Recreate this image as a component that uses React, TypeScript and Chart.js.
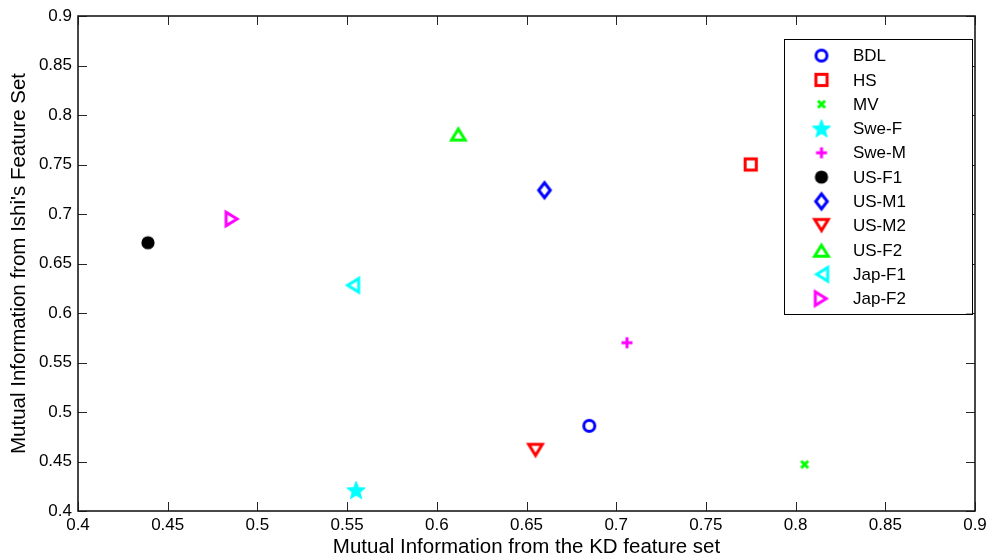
import React, { useEffect, useRef } from 'react';
import { Chart, registerables } from 'chart.js';

Chart.register(...registerables);

// ---------- data ----------
const seriesNames = ['BDL', 'HS', 'MV', 'Swe-F', 'Swe-M', 'US-F1', 'US-M1', 'US-M2', 'US-F2', 'Jap-F1', 'Jap-F2'];
const xValues = [0.685, 0.775, 0.805, 0.555, 0.706, 0.439, 0.66, 0.655, 0.612, 0.553, 0.486];
const yValues = [0.486, 0.75, 0.447, 0.421, 0.570, 0.671, 0.724, 0.461, 0.781, 0.628, 0.695];
const xTicks = [0.4, 0.45, 0.5, 0.55, 0.6, 0.65, 0.7, 0.75, 0.8, 0.85, 0.9];
const yTicks = [0.4, 0.45, 0.5, 0.55, 0.6, 0.65, 0.7, 0.75, 0.8, 0.85, 0.9];
const xTitle = 'Mutual Information from the KD feature set';
const yTitle = "Mutual Information from Ishi's Feature Set";

// ---------- styles ----------
const markerKinds = ['circle', 'square', 'x', 'star', 'plus', 'dot', 'diamond', 'triDown', 'triUp', 'triLeft', 'triRight'];
const markerColors = ['#0000ff', '#ff0000', '#00ff00', '#00ffff', '#ff00ff', '#000000', '#0000ff', '#ff0000', '#00ff00', '#00ffff', '#ff00ff'];
const FONT = '"Liberation Sans", Arial, Helvetica, sans-serif';

function makeMarker(kind: string, color: string): HTMLCanvasElement {
  const S = 28;
  const c = document.createElement('canvas');
  c.width = S;
  c.height = S;
  const g = c.getContext('2d')!;
  g.translate(S / 2, S / 2);
  g.strokeStyle = color;
  g.fillStyle = color;
  g.lineWidth = 3;
  g.lineJoin = 'miter';
  const tri = (angle: number) => {
    g.save();
    g.rotate(angle);
    g.beginPath();
    g.moveTo(0, -4.8);
    g.lineTo(6.8, 6.2);
    g.lineTo(-6.8, 6.2);
    g.closePath();
    g.stroke();
    g.restore();
  };
  switch (kind) {
    case 'circle':
      g.beginPath();
      g.arc(0, 0, 5.5, 0, Math.PI * 2);
      g.stroke();
      break;
    case 'square':
      g.strokeRect(-5.6, -5.6, 11.2, 11.2);
      break;
    case 'x':
      g.beginPath();
      g.moveTo(-3.5, -3.5);
      g.lineTo(3.5, 3.5);
      g.moveTo(3.5, -3.5);
      g.lineTo(-3.5, 3.5);
      g.stroke();
      break;
    case 'plus':
      g.beginPath();
      g.moveTo(-5.5, 0);
      g.lineTo(5.5, 0);
      g.moveTo(0, -5.5);
      g.lineTo(0, 5.5);
      g.stroke();
      break;
    case 'dot':
      g.beginPath();
      g.arc(0, 0, 6.6, 0, Math.PI * 2);
      g.fill();
      break;
    case 'diamond':
      g.beginPath();
      g.moveTo(0, -7.5);
      g.lineTo(5.8, 0);
      g.lineTo(0, 7.5);
      g.lineTo(-5.8, 0);
      g.closePath();
      g.stroke();
      break;
    case 'star': {
      g.beginPath();
      const R = 9.6, r = 4.1;
      for (let i = 0; i < 10; i++) {
        const a = -Math.PI / 2 + (i * Math.PI) / 5;
        const rr = i % 2 === 0 ? R : r;
        const px = Math.cos(a) * rr, py = Math.sin(a) * rr + 0.8;
        if (i === 0) g.moveTo(px, py); else g.lineTo(px, py);
      }
      g.closePath();
      g.fill();
      g.lineWidth = 1;
      g.stroke();
      break;
    }
    case 'triUp': tri(0); break;
    case 'triDown': tri(Math.PI); break;
    case 'triLeft': tri(-Math.PI / 2); break;
    case 'triRight': tri(Math.PI / 2); break;
  }
  return c;
}

const framePlugin = {
  id: 'matlabFrame',
  afterDraw(chart: any) {
    const { ctx, chartArea, scales } = chart;
    const { left, right, top, bottom } = chartArea;
    const xs = scales.x, ys = scales.y;
    ctx.save();
    // inward ticks
    ctx.strokeStyle = '#262626';
    ctx.lineWidth = 1;
    const TL = 9;
    ctx.beginPath();
    xs.ticks.forEach((t: any) => {
      const px = Math.round(xs.getPixelForValue(t.value)) + 0.5;
      ctx.moveTo(px, bottom);
      ctx.lineTo(px, bottom - TL);
      ctx.moveTo(px, top);
      ctx.lineTo(px, top + TL);
    });
    ys.ticks.forEach((t: any) => {
      const py = Math.round(ys.getPixelForValue(t.value)) + 0.5;
      ctx.moveTo(left, py);
      ctx.lineTo(left + TL, py);
      ctx.moveTo(right, py);
      ctx.lineTo(right - TL, py);
    });
    ctx.stroke();
    // box
    ctx.strokeStyle = '#1a1a1a';
    ctx.lineWidth = 1.6;
    ctx.strokeRect(left, top, right - left, bottom - top);

    // legend
    const lx = right - 191, ly = top + 22.6, lw = 188, lh = 275;
    ctx.fillStyle = '#ffffff';
    ctx.fillRect(lx, ly, lw, lh);
    ctx.strokeStyle = '#000000';
    ctx.lineWidth = 1;
    ctx.strokeRect(Math.round(lx) + 0.5, Math.round(ly) + 0.5, lw, lh);
    ctx.font = `17px ${FONT}`;
    ctx.textBaseline = 'middle';
    ctx.textAlign = 'left';
    ctx.fillStyle = '#000000';
    chart.data.datasets.forEach((ds: any, i: number) => {
      const cy = ly + 17 + i * 24.3;
      const img = ds.pointStyle as HTMLCanvasElement;
      ctx.drawImage(img, lx + 37.5 - img.width / 2, cy - img.height / 2);
      ctx.fillStyle = '#000000';
      ctx.fillText(ds.label, lx + 69, cy + 1);
    });
    ctx.restore();
  },
};

export default function App() {
  const ref = useRef<HTMLCanvasElement>(null);
  useEffect(() => {
    if (!ref.current) return;
    const datasets = seriesNames.map((name, i) => ({
      label: name,
      data: [{ x: xValues[i], y: yValues[i] }],
      pointStyle: makeMarker(markerKinds[i], markerColors[i]),
      pointRadius: 10,
      showLine: false,
    }));
    const chart = new Chart(ref.current, {
      type: 'scatter',
      data: { datasets },
      options: {
        responsive: false,
        animation: false,
        layout: { padding: { top: 16, right: 13, left: 0, bottom: 0 } },
        plugins: { legend: { display: false }, tooltip: { enabled: false } },
        scales: {
          x: {
            type: 'linear',
            min: 0.4,
            max: 0.9,
            afterBuildTicks: (s: any) => { s.ticks = xTicks.map((v) => ({ value: v })); },
            afterFit: (s: any) => { s.height = 47; s.paddingLeft = 0; s.paddingRight = 0; },
            grid: { display: false, drawTicks: false },
            border: { display: false },
            ticks: {
              color: '#000',
              font: { family: FONT, size: 17 },
              padding: 4,
              maxRotation: 0,
              callback: (v: any) => String(Number(Number(v).toFixed(2))),
            },
            title: {
              display: true,
              text: xTitle,
              color: '#000',
              font: { family: FONT, size: 20.5, lineHeight: 1.0 },
              padding: { top: 0, bottom: 0 },
            },
          },
          y: {
            type: 'linear',
            min: 0.4,
            max: 0.9,
            afterBuildTicks: (s: any) => { s.ticks = yTicks.map((v) => ({ value: v })); },
            afterFit: (s: any) => { s.width = 78; s.paddingTop = 0; s.paddingBottom = 0; },
            grid: { display: false, drawTicks: false },
            border: { display: false },
            ticks: {
              color: '#000',
              font: { family: FONT, size: 17 },
              padding: 6,
              callback: (v: any) => String(Number(Number(v).toFixed(2))),
            },
            title: {
              display: true,
              text: yTitle,
              color: '#000',
              font: { family: FONT, size: 20.5, lineHeight: 1.0 },
              padding: { top: 9, bottom: 0 },
            },
          },
        },
      },
      plugins: [framePlugin],
    } as any);
    return () => chart.destroy();
  }, []);
  return (
    <div style={{ position: 'absolute', left: 0, top: 0, width: 988, height: 558, background: '#fff' }}>
      <canvas ref={ref} width={988} height={558} style={{ display: 'block' }} />
    </div>
  );
}
